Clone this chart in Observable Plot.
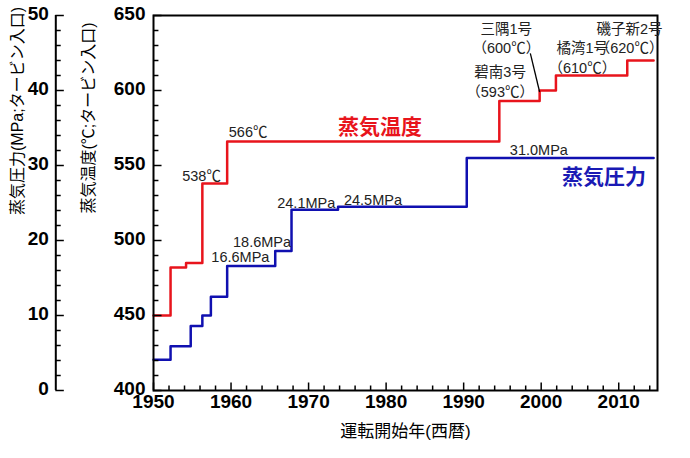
<!DOCTYPE html>
<html><head><meta charset="utf-8">
<script src="https://cdn.jsdelivr.net/npm/d3@7"></script>
<script src="https://cdn.jsdelivr.net/npm/@observablehq/plot@0.6"></script>
<style>body{margin:0;background:#fff}svg{font-family:"Liberation Sans","Noto Sans CJK JP",sans-serif}</style>
</head><body><div id="c"></div>
<script>
const tempYears = [1950, 1952.2, 1954.2, 1956.3, 1959.5, 1994.6, 1999.8, 2001.9, 2011.1, 2014.5];
const tempValues = [450, 482, 485, 538, 566, 593, 600, 610, 620, 620];
const presYears = [1950, 1952.2, 1954.8, 1956.3, 1957.4, 1959.5, 1965.7, 1967.8, 1973.8, 1990.4, 2014.5];
const presValues = [4.1, 5.9, 8.6, 10.0, 12.5, 16.6, 18.6, 24.1, 24.5, 31.0, 31.0];
const xTicks = [1950, 1960, 1970, 1980, 1990, 2000, 2010];
const tempTicks = [400, 450, 500, 550, 600, 650];
const presTicks = [0, 10, 20, 30, 40, 50];
const labels = [
  {x:1962.2,y:572,t:"566℃"},
  {x:1956.2,y:542.7,t:"538℃"},
  {x:1961.2,y:488.7,t:"16.6MPa"},
  {x:1964,y:498.7,t:"18.6MPa"},
  {x:1969.7,y:524.7,t:"24.1MPa"},
  {x:1978.3,y:526.7,t:"24.5MPa"},
  {x:1999.7,y:560,t:"31.0MPa"},
  {x:1994.7,y:612,t:"碧南3号"},
  {x:1994.7,y:598.7,t:"（593℃）"},
  {x:1995.5,y:641,t:"三隅1号"},
  {x:1995.5,y:628,t:"（600℃）"},
  {x:2005.3,y:628,t:"橘湾1号"},
  {x:2005.3,y:614.7,t:"（610℃）"},
  {x:2011.4,y:641,t:"磯子新2号"},
  {x:2011.4,y:628,t:"（620℃）"}
];
const seriesLabels = [
  {x:1979.2,y:575.3,t:"蒸気温度",c:"#e8141c"},
  {x:2008.1,y:542,t:"蒸気圧力",c:"#1a1ab4"}
];
const minorX = d3.range(1950, 2016, 2);
const minorT = d3.range(400, 651, 10);
const toT = p => 400 + 5 * p;
const pAxisX = 1937.4;
const chart = Plot.plot({
  width: 690, height: 458,
  marginLeft: 153, marginRight: 33, marginTop: 15, marginBottom: 68,
  x: {domain: [1950, 2015], axis: null},
  y: {domain: [400, 650], axis: null},
  style: {fontFamily: '"Liberation Sans","Noto Sans CJK JP",sans-serif'},
  marks: [
    Plot.line(tempYears.map((x,i)=>({x, y: tempValues[i]})), {x:"x", y:"y", curve:"step-after", stroke:"#e8141c", strokeWidth:2.5}),
    Plot.line(presYears.map((x,i)=>({x, y: toT(presValues[i])})), {x:"x", y:"y", curve:"step-after", stroke:"#1010b0", strokeWidth:2.5}),
    Plot.frame({stroke:"#000", strokeWidth:2}),
    Plot.ruleX(minorX, {x: d=>d, y1:400, y2: d=> xTicks.includes(d) ? 405 : 403, stroke:"#000", strokeWidth:1.5}),
    Plot.text(xTicks, {x:d=>d, frameAnchor:"bottom", dy:17, text:d=>String(d), fontSize:19, fontWeight:"bold", fill:"#000"}),
    Plot.text(["運転開始年(西暦)"], {frameAnchor:"bottom", dy:46, text:d=>d, fontSize:17, fill:"#000"}),
    Plot.ruleY(minorT, {y:d=>d, x1:1950, x2: d=> d%50===0 ? 1951.1 : 1950.7, stroke:"#000", strokeWidth:1.5}),
    Plot.text(tempTicks, {y:d=>d, frameAnchor:"left", dx:-8, dy:-2, textAnchor:"end", text:d=>String(d), fontSize:19, fontWeight:"bold", fill:"#000"}),
    Plot.text(["蒸気温度(℃;タービン入口)"], {frameAnchor:"left", dx:-65, y:518, rotate:-90, text:d=>d, fontSize:16, fill:"#000"}),
    Plot.ruleX([pAxisX], {y1:400, y2:650, stroke:"#000", strokeWidth:2}),
    Plot.ruleY(minorT, {y:d=>d, x1:pAxisX, x2: d=> d%50===0 ? pAxisX+1.1 : pAxisX+0.7, stroke:"#000", strokeWidth:1.5}),
    Plot.text(presTicks, {y:d=>toT(d), x:pAxisX, dx:-7, dy:-2, textAnchor:"end", text:d=>String(d), fontSize:19, fontWeight:"bold", fill:"#000"}),
    Plot.text(["蒸気圧力(MPa;タービン入口)"], {frameAnchor:"left", dx:-136, y:517, rotate:-90, text:d=>d, fontSize:16, fill:"#000"}),
    Plot.link([{x1:1998.6, y1:624.7, x2:1999.8, y2:599}], {x1:"x1", y1:"y1", x2:"x2", y2:"y2", stroke:"#000", strokeWidth:1.3}),
    Plot.text(labels, {x:"x", y:"y", text:"t", fill:"#222", fontSize:14.5}),
    Plot.text(seriesLabels, {x:"x", y:"y", text:"t", fill:"c", fontSize:21, fontWeight:"bold"}),
  ]
});
document.getElementById("c").appendChild(chart);
</script></body></html>
